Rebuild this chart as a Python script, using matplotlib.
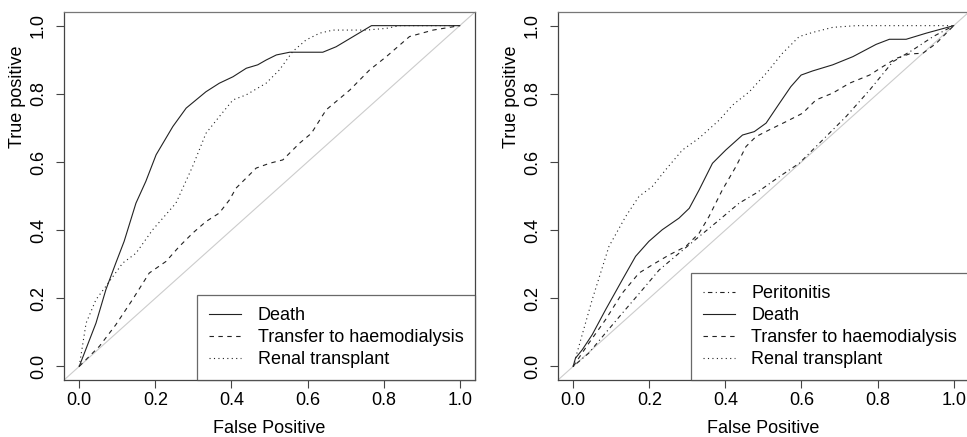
import matplotlib.pyplot as plt

plt.rcParams['font.family'] = ['Liberation Sans', 'DejaVu Sans']

# left panel
death_l_x = [0, 0.044, 0.070, 0.096, 0.118, 0.149, 0.175, 0.202, 0.246, 0.281, 0.333, 0.368,
             0.404, 0.439, 0.469, 0.491, 0.518, 0.553, 0.640, 0.675, 0.768, 1.0]
death_l_y = [0, 0.127, 0.225, 0.303, 0.367, 0.479, 0.543, 0.621, 0.704, 0.758, 0.806, 0.831,
             0.850, 0.875, 0.885, 0.899, 0.914, 0.922, 0.922, 0.938, 1.0, 1.0]

transfer_l_x = [0, 0.053, 0.096, 0.140, 0.184, 0.228, 0.263, 0.298, 0.333, 0.368, 0.395, 0.412,
                0.465, 0.500, 0.535, 0.579, 0.610, 0.649, 0.711, 0.763, 0.807, 0.868, 0.930, 1.0]
transfer_l_y = [0, 0.059, 0.122, 0.196, 0.274, 0.308, 0.352, 0.391, 0.425, 0.450, 0.489, 0.523,
                0.582, 0.596, 0.606, 0.655, 0.684, 0.753, 0.811, 0.870, 0.909, 0.968, 0.987, 1.0]

renal_l_x = [0, 0.018, 0.044, 0.070, 0.114, 0.149, 0.193, 0.254, 0.298, 0.333, 0.368, 0.404,
             0.439, 0.491, 0.526, 0.561, 0.596, 0.632, 0.667, 0.754, 0.807, 0.842, 1.0]
renal_l_y = [0, 0.127, 0.196, 0.235, 0.303, 0.332, 0.401, 0.479, 0.587, 0.684, 0.733, 0.782,
             0.797, 0.831, 0.870, 0.924, 0.958, 0.978, 0.987, 0.987, 0.992, 1.0, 1.0]

# right panel
perit_r_x = [0, 0.041, 0.085, 0.129, 0.182, 0.226, 0.278, 0.331, 0.384, 0.436, 0.480, 0.542,
             0.594, 0.656, 0.717, 0.779, 0.840, 0.893, 0.946, 1.0]
perit_r_y = [0, 0.039, 0.098, 0.156, 0.225, 0.283, 0.332, 0.381, 0.430, 0.479, 0.508, 0.557,
             0.596, 0.665, 0.733, 0.811, 0.894, 0.929, 0.968, 1.0]

death_r_x = [0, 0.006, 0.024, 0.050, 0.085, 0.129, 0.164, 0.199, 0.234, 0.278, 0.305, 0.331,
             0.366, 0.401, 0.445, 0.476, 0.507, 0.542, 0.572, 0.599, 0.629, 0.682, 0.735,
             0.796, 0.831, 0.875, 0.928, 1.0]
death_r_y = [0, 0.024, 0.049, 0.093, 0.166, 0.254, 0.323, 0.367, 0.401, 0.435, 0.464, 0.518,
             0.596, 0.635, 0.679, 0.689, 0.714, 0.772, 0.821, 0.855, 0.867, 0.885, 0.909,
             0.945, 0.960, 0.960, 0.978, 1.0]

transfer_r_x = [0, 0.041, 0.085, 0.129, 0.173, 0.208, 0.252, 0.296, 0.331, 0.357, 0.392, 0.428,
                0.454, 0.480, 0.515, 0.559, 0.603, 0.638, 0.682, 0.726, 0.779, 0.814, 0.849,
                0.884, 0.919, 0.954, 1.0]
transfer_r_y = [0, 0.068, 0.137, 0.215, 0.274, 0.298, 0.327, 0.352, 0.391, 0.440, 0.518, 0.587,
                0.645, 0.674, 0.694, 0.718, 0.743, 0.782, 0.802, 0.831, 0.855, 0.880, 0.904,
                0.917, 0.919, 0.948, 1.0]

renal_r_x = [0, 0.015, 0.050, 0.094, 0.138, 0.173, 0.208, 0.243, 0.287, 0.331, 0.384, 0.419,
             0.463, 0.507, 0.550, 0.594, 0.629, 0.682, 0.744, 1.0]
renal_r_y = [0, 0.059, 0.196, 0.352, 0.440, 0.499, 0.528, 0.577, 0.635, 0.670, 0.723, 0.767,
             0.806, 0.860, 0.919, 0.968, 0.980, 0.995, 1.0, 1.0]

ticks = [0.0, 0.2, 0.4, 0.6, 0.8, 1.0]
tick_labels = ['0.0', '0.2', '0.4', '0.6', '0.8', '1.0']

solid = '-'
dashed = (0, (4, 4))
dotted = (0, (1, 3))
dotdash = (0, (1, 3, 4, 3))
line_col = '#222222'
frame_col = '#444444'
fs = 13

fig = plt.figure(figsize=(9.67, 4.37), dpi=100)
ax1 = fig.add_axes([0.0662, 0.1304, 0.4250, 0.8421])
ax2 = fig.add_axes([0.5770, 0.1304, 0.4250, 0.8421])


def style(ax):
    ax.set_xlim(-0.04, 1.04)
    ax.set_ylim(-0.04, 1.04)
    ax.set_xticks(ticks)
    ax.set_xticklabels(tick_labels)
    ax.set_yticks(ticks)
    ax.set_yticklabels(tick_labels, rotation=90, va='center')
    ax.tick_params(length=5.8, width=0.8, color=frame_col, labelsize=fs)
    ax.tick_params(axis='x', pad=2.5)
    ax.tick_params(axis='y', pad=6.5)
    for s in ax.spines.values():
        s.set_color(frame_col)
        s.set_linewidth(0.9)
    ax.spines['top'].set_color('#777777')
    ax.set_xlabel('False Positive', fontsize=fs, labelpad=8)
    ax.set_ylabel('True positive', fontsize=fs)
    # R puts this label high up on the axis
    ax.yaxis.set_label_coords(-0.092, 0.77)
    ax.axline((0, 0), (1, 1), color='#cccccc', lw=0.8, zorder=1)


style(ax1)
ax1.plot(death_l_x, death_l_y, color=line_col, lw=0.8, ls=solid, label='Death')
ax1.plot(transfer_l_x, transfer_l_y, color=line_col, lw=0.8, ls=dashed, label='Transfer to haemodialysis')
ax1.plot(renal_l_x, renal_l_y, color=line_col, lw=0.8, ls=dotted, label='Renal transplant')

style(ax2)
ax2.plot(perit_r_x, perit_r_y, color=line_col, lw=0.8, ls=dotdash, label='Peritonitis')
ax2.plot(death_r_x, death_r_y, color=line_col, lw=0.8, ls=solid, label='Death')
ax2.plot(transfer_r_x, transfer_r_y, color=line_col, lw=0.8, ls=dashed, label='Transfer to haemodialysis')
ax2.plot(renal_r_x, renal_r_y, color=line_col, lw=0.8, ls=dotted, label='Renal transplant')

for ax in (ax1, ax2):
    leg = ax.legend(loc='lower right', borderaxespad=0, fancybox=False, fontsize=fs,
                    handlelength=1.8, handletextpad=0.9, labelspacing=0.28, borderpad=0.65)
    leg.get_frame().set_edgecolor(frame_col)
    leg.get_frame().set_linewidth(0.9)

plt.savefig('out.png', dpi=100)
